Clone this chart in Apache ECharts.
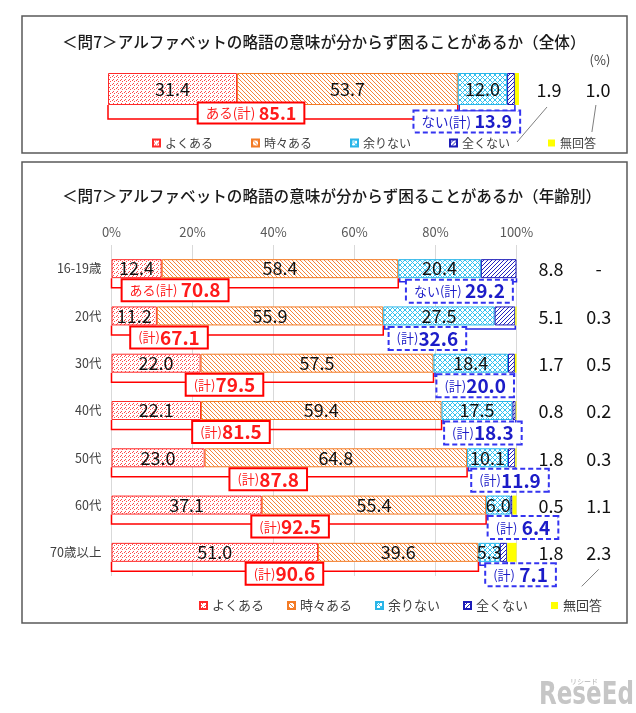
<!DOCTYPE html>
<html><head><meta charset="utf-8">
<script src="https://cdn.jsdelivr.net/npm/echarts@6/dist/echarts.min.js"></script>
<style>html,body{margin:0;padding:0;background:#fff}#c{width:636px;height:713px}</style>
</head><body><div id="c"></div>
<script>
// ================= DATA =================
const seriesNames = ['よくある', '時々ある', '余りない', '全くない', '無回答'];
const titleTotal = '＜問7＞アルファベットの略語の意味が分からず困ることがあるか（全体）';
const titleAge = '＜問7＞アルファベットの略語の意味が分からず困ることがあるか（年齢別）';

// overall
const totalCats = ['全体'];
const totalYoku = [31.4];
const totalToki = [53.7];
const totalAmari = [12.0];
const totalMattaku = [1.9];
const totalMukaito = [1.0];
const totalAru = [85.1];
const totalNai = [13.9];

// by age
const ageCats = ['16-19歳', '20代', '30代', '40代', '50代', '60代', '70歳以上'];
const ageYoku = [12.4, 11.2, 22.0, 22.1, 23.0, 37.1, 51.0];
const ageToki = [58.4, 55.9, 57.5, 59.4, 64.8, 55.4, 39.6];
const ageAmari = [20.4, 27.5, 18.4, 17.5, 10.1, 6.0, 5.3];
const ageMattaku = [8.8, 5.1, 1.7, 0.8, 1.8, 0.5, 1.8];
const ageMukaito = [null, 0.3, 0.5, 0.2, 0.3, 1.1, 2.3];
const ageAru = [70.8, 67.1, 79.5, 81.5, 87.8, 92.5, 90.6];
const ageNai = [29.2, 32.6, 20.0, 18.3, 11.9, 6.4, 7.1];

const xTicks = [0, 20, 40, 60, 80, 100];

// ================= LAYOUT / STYLE =================
const FONT = '"Noto Sans CJK JP","Noto Sans",sans-serif';
const RED = '#ff1a1a', BLUE = '#1c1cc8', BLUE_LINE = '#3434f0';
// label-box anchor positions (axis units) and column positions
const topRedPos = [34.8], topBluePos = [87.3], topCols = [107.3, 119.2];
const ageRedPos = [15.7, 14.2, 27.9, 29.5, 38.7, 44.1, 42.7];
const ageBluePos = [85.9, 78.0, 89.8, 91.7, 98.4, 101.6, 101.0];
const ageCols = [108.5, 120.3];

const LT = { barW: 32, redBot: 30, redBoxDy: 24, blueBot: 22, blueBoxDy: 32.5, big: 18, small: 13.5,
  leaders: [[0, [-2, 18], [-32, 53]], [1, [-2, 16], [-6, 43]]] };
const LA = { barW: 19, redBot: 19, redBoxDy: 21.5, blueBot: 13, blueBoxDy: 22.5, big: 19, small: 13 };
const ageLeaders = { 6: [[1, [0, 17], [-17, 34]]] };

function pattern(size, fg, pts) {
  const cv = document.createElement('canvas');
  cv.width = size; cv.height = size;
  const g = cv.getContext('2d');
  g.fillStyle = '#ffffff'; g.fillRect(0, 0, size, size);
  g.fillStyle = fg;
  pts.forEach(p => g.fillRect(p[0], p[1], 1, 1));
  return { image: cv, repeat: 'repeat' };
}
const diagDown = [], diagUp = [], cross = [];
for (let i = 0; i < 4; i++) { diagDown.push([i, i]); diagUp.push([3 - i, i]); }
for (let i = 0; i < 5; i++) { cross.push([i, i]); cross.push([4 - i, i]); }

const segStyles = [
  { color: pattern(4, '#ff4a4a', [[0, 0], [2, 1], [1, 3]]), borderColor: '#ff2a2a', borderWidth: 1 },
  { color: pattern(4, '#f5843a', diagDown), borderColor: '#f37b25', borderWidth: 1 },
  { color: pattern(5, '#33c2f0', cross), borderColor: '#2ab5e8', borderWidth: 1 },
  { color: pattern(4, '#2222c0', diagUp), borderColor: '#1c1cb8', borderWidth: 1 },
  { color: '#ffff00', borderColor: '#ffff00', borderWidth: 0 }
];

const fmt = v => (v == null ? '-' : v.toFixed(1));

function barSeries(axisIdx, stack, arrays, barW) {
  return arrays.map((arr, k) => ({
    type: 'bar', name: seriesNames[k], stack: stack,
    xAxisIndex: axisIdx, yAxisIndex: axisIdx, barWidth: barW,
    data: arr, itemStyle: segStyles[k], silent: true,
    label: {
      show: k < 3, position: 'inside', fontSize: 18, fontFamily: FONT, color: '#111111',
      formatter: p => fmt(p.value)
    },
    emphasis: { disabled: true }
  }));
}

function makeRender(cfg) {
  return function (params, api) {
    const i = params.dataIndex;
    const aru = cfg.aru[i], nai = cfg.nai[i];
    const p0 = api.coord([0, i]);
    const x0 = p0[0], cy = p0[1];
    const xA = api.coord([aru, i])[0];
    const xB = api.coord([aru + nai, i])[0];
    const L = cfg.L;
    const bb = cy + L.barW / 2;
    const ch = [];
    ch.push({ type: 'polyline', shape: { points: [[x0, bb], [x0, cy + L.redBot], [xA, cy + L.redBot], [xA, bb]] },
      style: { stroke: '#ff0000', lineWidth: 1.5, fill: null } });
    ch.push({ type: 'polyline', shape: { points: [[xA + 1.5, bb], [xA + 1.5, cy + L.blueBot], [xB, cy + L.blueBot], [xB, bb]] },
      style: { stroke: '#2828e6', lineWidth: 1.5, fill: null } });
    const pre = (i === 0 && cfg.prefix0);
    const redTxt = (pre ? '{a|ある(計)} ' : '{a|(計)}') + '{b|' + (aru < 10 ? ' ' : '') + fmt(aru) + '}';
    const blueTxt = (pre ? '{a|ない(計)} ' : '{a|(計)}') + '{b|' + (nai < 10 ? ' ' : '') + fmt(nai) + '}';
    ch.push({ type: 'text', z2: 10, style: {
      text: redTxt, x: api.coord([cfg.redPos[i], i])[0], y: cy + L.redBoxDy, align: 'center', verticalAlign: 'middle',
      backgroundColor: '#fff', borderColor: '#ff0000', borderWidth: 2, padding: [0, 7, 0, 7],
      rich: { a: { fontSize: L.small, fontFamily: FONT, fill: RED, lineHeight: L.big + 1 },
              b: { fontSize: L.big, fontFamily: FONT, fontWeight: 'bold', fill: RED, lineHeight: L.big + 1 } } } });
    ch.push({ type: 'text', z2: 10, style: {
      text: blueTxt, x: api.coord([cfg.bluePos[i], i])[0], y: cy + L.blueBoxDy, align: 'center', verticalAlign: 'middle',
      backgroundColor: '#fff', borderColor: BLUE_LINE, borderWidth: 2, borderDash: [5, 3], padding: [0, 7, 0, 7],
      rich: { a: { fontSize: L.small, fontFamily: FONT, fill: BLUE, lineHeight: L.big + 2 },
              b: { fontSize: L.big, fontFamily: FONT, fontWeight: 'bold', fill: BLUE, lineHeight: L.big + 2 } } } });
    const colVals = [cfg.mattaku[i], cfg.mukaito[i]];
    const colX = cfg.cols.map(c => api.coord([c, i])[0]);
    colVals.forEach((v, k) => {
      ch.push({ type: 'text', style: { text: fmt(v), x: colX[k], y: cy + 1, align: 'center', verticalAlign: 'middle',
        fontSize: 18, fontFamily: FONT, fill: '#111111' } });
    });
    (cfg.leaders(i) || []).forEach(ld => {
      const bx = colX[ld[0]];
      ch.push({ type: 'line', shape: { x1: bx + ld[1][0], y1: cy + ld[1][1], x2: bx + ld[2][0], y2: cy + ld[2][1] },
        style: { stroke: '#7f7f7f', lineWidth: 1 } });
    });
    return { type: 'group', children: ch };
  };
}

const chart = echarts.init(document.getElementById('c'), null, { renderer: 'canvas' });

const option = {
  animation: false,
  backgroundColor: '#ffffff',
  textStyle: { fontFamily: FONT },
  grid: [
    { left: 108, top: 73, width: 411, height: 32, containLabel: false },
    { left: 111.5, top: 245, width: 405, height: 331, containLabel: false }
  ],
  xAxis: [
    { gridIndex: 0, type: 'value', min: 0, max: 100, show: false },
    { gridIndex: 1, type: 'value', min: xTicks[0], max: xTicks[xTicks.length - 1], interval: xTicks[1] - xTicks[0],
      position: 'top', axisLine: { show: false }, axisTick: { show: false },
      axisLabel: { formatter: '{value}%', fontSize: 13, color: '#595959', margin: 6, fontFamily: FONT },
      splitLine: { show: true, lineStyle: { color: '#d9d9d9', width: 1 } } }
  ],
  yAxis: [
    { gridIndex: 0, type: 'category', data: totalCats, show: false },
    { gridIndex: 1, type: 'category', data: ageCats, inverse: true,
      axisLine: { show: false }, axisTick: { show: false },
      axisLabel: { fontSize: 12.5, color: '#404040', margin: 10, fontFamily: FONT } }
  ],
  legend: [
    { data: seriesNames, left: 147, top: 132, itemWidth: 7, itemHeight: 7, itemGap: 38, icon: 'rect',
      textStyle: { fontSize: 12, color: '#404040', fontFamily: FONT }, selectedMode: false },
    { data: seriesNames, left: 194, top: 594, itemWidth: 7, itemHeight: 7, itemGap: 23, icon: 'rect',
      textStyle: { fontSize: 13, color: '#404040', fontFamily: FONT }, selectedMode: false }
  ],
  graphic: [
    { type: 'rect', shape: { x: 22, y: 16, width: 605, height: 137 }, style: { fill: null, stroke: '#595959', lineWidth: 1.5 }, z: 0 },
    { type: 'rect', shape: { x: 22, y: 162, width: 605, height: 461 }, style: { fill: null, stroke: '#595959', lineWidth: 1.5 }, z: 0 },
    { type: 'text', x: 62, y: 42, style: { text: titleTotal, fontSize: 15.6, fontWeight: 500, fontFamily: FONT, fill: '#1a1a1a', verticalAlign: 'middle' } },
    { type: 'text', x: 62, y: 196, style: { text: titleAge, fontSize: 15.6, fontWeight: 500, fontFamily: FONT, fill: '#1a1a1a', verticalAlign: 'middle' } },
    { type: 'text', x: 600, y: 60, style: { text: '(%)', fontSize: 13, fontFamily: FONT, fill: '#404040', align: 'center', verticalAlign: 'middle' } },
    { type: 'text', x: 539, y: 696, scaleX: 0.72, style: { text: 'ReseEd', fontSize: 32, fontWeight: 'bold', fontFamily: '"DejaVu Sans",sans-serif', fill: '#c6c6c6', verticalAlign: 'middle' } },
    { type: 'text', x: 570, y: 681, style: { text: 'リシード', fontSize: 7, fontFamily: FONT, fill: '#b0b0b0', verticalAlign: 'middle' } }
  ],
  series: [
    ...barSeries(0, 'total', [totalYoku, totalToki, totalAmari, totalMattaku, totalMukaito], LT.barW),
    ...barSeries(1, 'age', [ageYoku, ageToki, ageAmari, ageMattaku, ageMukaito], LA.barW),
    { type: 'custom', xAxisIndex: 0, yAxisIndex: 0, z: 5, silent: true, clip: false,
      data: totalAru.map((v, i) => [v, i]),
      renderItem: makeRender({ aru: totalAru, nai: totalNai, mattaku: totalMattaku, mukaito: totalMukaito,
        redPos: topRedPos, bluePos: topBluePos, cols: topCols, L: LT, prefix0: true, leaders: i => LT.leaders }) },
    { type: 'custom', xAxisIndex: 1, yAxisIndex: 1, z: 5, silent: true, clip: false,
      data: ageAru.map((v, i) => [v, i]),
      renderItem: makeRender({ aru: ageAru, nai: ageNai, mattaku: ageMattaku, mukaito: ageMukaito,
        redPos: ageRedPos, bluePos: ageBluePos, cols: ageCols, L: LA, prefix0: true, leaders: i => ageLeaders[i] }) }
  ]
};
chart.setOption(option);
</script></body></html>
